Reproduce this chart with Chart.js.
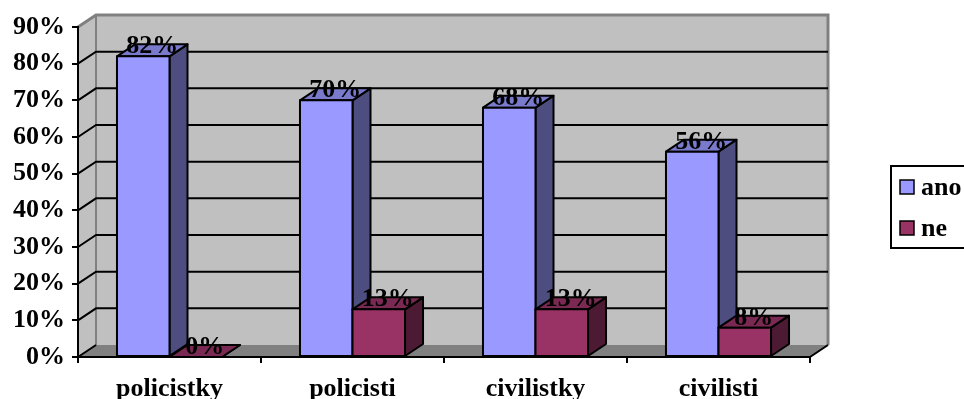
<!DOCTYPE html>
<html lang="cs">
<head>
<meta charset="utf-8">
<title>ano / ne</title>
<script src="https://cdn.jsdelivr.net/npm/chart.js@4/dist/chart.umd.min.js"></script>
<style>
  html, body { margin: 0; padding: 0; background: #fff; }
  canvas { display: block; }
</style>
</head>
<body>
<canvas id="chart" width="964" height="399"></canvas>
<script>
'use strict';

const categories = ['policistky', 'policisti', 'civilistky', 'civilisti'];
const anoValues = [82, 70, 68, 56];
const neValues = [0, 13, 13, 8];
const yMax = 90;
const yStep = 10;

const FONT = 'Liberation Serif, "Times New Roman", serif';
const FONT_SIZE = 26;

// face colours: front, top, side
const SERIES = {
  ano: { front: '#9999FF', top: '#7A7ACC', side: '#4D4D80' },
  ne:  { front: '#993366', top: '#7A2952', side: '#4D1A33' },
};

// depth offset of the 3D box
const DX = 18;
const DY = -12;

function pct(v) {
  return `${v}%`;
}

const wallsPlugin = {
  id: 'walls',
  beforeDraw(chart) {
    const { ctx, chartArea: a, scales } = chart;
    const ys = scales.y;
    ctx.save();
    ctx.fillStyle = '#fff';
    ctx.fillRect(0, 0, chart.width, chart.height);

    const top = ys.getPixelForValue(yMax);
    const bot = ys.getPixelForValue(0);

    // back wall
    ctx.fillStyle = '#C0C0C0';
    ctx.fillRect(a.left + DX, top + DY, a.right - a.left, bot - top);

    // left wall
    ctx.beginPath();
    ctx.moveTo(a.left, top);
    ctx.lineTo(a.left + DX, top + DY);
    ctx.lineTo(a.left + DX, bot + DY);
    ctx.lineTo(a.left, bot);
    ctx.closePath();
    ctx.fill();

    // floor
    ctx.fillStyle = '#808080';
    ctx.beginPath();
    ctx.moveTo(a.left, bot);
    ctx.lineTo(a.left + DX, bot + DY);
    ctx.lineTo(a.right + DX, bot + DY);
    ctx.lineTo(a.right, bot);
    ctx.closePath();
    ctx.fill();

    // wall edges
    ctx.strokeStyle = '#808080';
    ctx.lineWidth = 3;
    ctx.beginPath();
    ctx.moveTo(a.left, top);
    ctx.lineTo(a.left + DX, top + DY);
    ctx.lineTo(a.right + DX, top + DY);
    ctx.lineTo(a.right + DX, bot + DY);
    ctx.stroke();
    ctx.lineWidth = 2;
    ctx.beginPath();
    ctx.moveTo(a.left + DX, top + DY);
    ctx.lineTo(a.left + DX, bot + DY);
    ctx.stroke();

    // gridlines across left and back wall
    ctx.strokeStyle = '#000';
    ctx.lineWidth = 2;
    for (let v = 0; v < yMax; v += yStep) {
      const y = ys.getPixelForValue(v);
      ctx.beginPath();
      ctx.moveTo(a.left, y);
      ctx.lineTo(a.left + DX, y + DY);
      if (v > 0) ctx.lineTo(a.right + DX, y + DY);
      ctx.stroke();
    }
    // right floor edge
    ctx.beginPath();
    ctx.moveTo(a.right, bot);
    ctx.lineTo(a.right + DX, bot + DY);
    ctx.stroke();
    ctx.restore();
  },
};

function poly(ctx, pts, fill) {
  ctx.beginPath();
  ctx.moveTo(pts[0][0], pts[0][1]);
  for (let i = 1; i < pts.length; i++) ctx.lineTo(pts[i][0], pts[i][1]);
  ctx.closePath();
  ctx.fillStyle = fill;
  ctx.fill();
  ctx.stroke();
}

const boxesPlugin = {
  id: 'boxes',
  afterDatasetsDraw(chart) {
    const { ctx } = chart;
    const metas = chart.data.datasets.map((_, i) => chart.getDatasetMeta(i));
    ctx.save();
    ctx.strokeStyle = '#000';
    ctx.lineWidth = 2;
    ctx.lineJoin = 'round';

    for (let i = 0; i < categories.length; i++) {
      metas.forEach((meta, d) => {
        const c = SERIES[chart.data.datasets[d].key];
        const bar = meta.data[i].getProps(['x', 'y', 'base', 'width'], true);
        const l = bar.x - bar.width / 2;
        const r = bar.x + bar.width / 2;
        const t = bar.y;
        const b = bar.base;
        poly(ctx, [[r, b], [r + DX, b + DY], [r + DX, t + DY], [r, t]], c.side);
        poly(ctx, [[l, t], [l + DX, t + DY], [r + DX, t + DY], [r, t]], c.top);
        if (b - t > 0) poly(ctx, [[l, t], [r, t], [r, b], [l, b]], c.front);
      });
    }

    // value labels
    ctx.fillStyle = '#000';
    ctx.font = `bold ${FONT_SIZE}px ${FONT}`;
    ctx.textAlign = 'center';
    ctx.textBaseline = 'alphabetic';
    metas.forEach((meta, d) => {
      const vals = chart.data.datasets[d].data;
      meta.data.forEach((el, i) => {
        const p = el.getProps(['x', 'y'], true);
        ctx.fillText(pct(vals[i]), p.x + DX / 2, p.y - 3);
      });
    });
    ctx.restore();
  },
};

const legendPlugin = {
  id: 'boxLegend',
  afterDraw(chart) {
    const { ctx } = chart;
    ctx.save();
    ctx.fillStyle = '#fff';
    ctx.strokeStyle = '#000';
    ctx.lineWidth = 2;
    ctx.fillRect(891, 166, 90, 82);
    ctx.strokeRect(891, 166, 90, 82);
    ctx.font = `bold ${FONT_SIZE}px ${FONT}`;
    ctx.textBaseline = 'middle';
    ctx.textAlign = 'left';
    chart.data.datasets.forEach((ds, i) => {
      const cy = 187 + i * 41;
      ctx.fillStyle = ds.backgroundColor;
      ctx.fillRect(900, cy - 7, 14, 14);
      ctx.lineWidth = 1.5;
      ctx.strokeRect(900, cy - 7, 14, 14);
      ctx.fillStyle = '#000';
      ctx.fillText(ds.label, 921, cy + 1);
    });
    ctx.restore();
  },
};

new Chart(document.getElementById('chart'), {
  type: 'bar',
  data: {
    labels: categories,
    datasets: [
      { key: 'ano', label: 'ano', data: anoValues, backgroundColor: SERIES.ano.front, borderColor: '#000', borderWidth: 0 },
      { key: 'ne', label: 'ne', data: neValues, backgroundColor: SERIES.ne.front, borderColor: '#000', borderWidth: 0 },
    ],
  },
  options: {
    responsive: false,
    animation: false,
    devicePixelRatio: 1,
    layout: { padding: { left: 0, right: 154, top: 27, bottom: 0 } },
    datasets: { bar: { categoryPercentage: 0.574, barPercentage: 1.0 } },
    plugins: {
      legend: { display: false },
      tooltip: { enabled: false },
    },
    scales: {
      x: {
        offset: true,
        afterFit: s => { s.height = 42; },
        grid: { offset: true, drawOnChartArea: false, color: '#000', lineWidth: 2, tickLength: 6 },
        border: { color: '#000', width: 2 },
        ticks: { color: '#000', padding: 11, maxRotation: 0, font: { family: FONT, size: FONT_SIZE, weight: 'bold' } },
      },
      y: {
        min: 0,
        max: yMax,
        afterFit: s => { s.width = 78; },
        grid: { drawOnChartArea: false, color: '#000', lineWidth: 2, tickLength: 6 },
        border: { color: '#000', width: 2 },
        ticks: {
          stepSize: yStep,
          color: '#000',
          padding: 7,
          font: { family: FONT, size: FONT_SIZE, weight: 'bold' },
          callback: v => pct(v),
        },
      },
    },
  },
  plugins: [wallsPlugin, boxesPlugin, legendPlugin],
});
</script>
</body>
</html>
